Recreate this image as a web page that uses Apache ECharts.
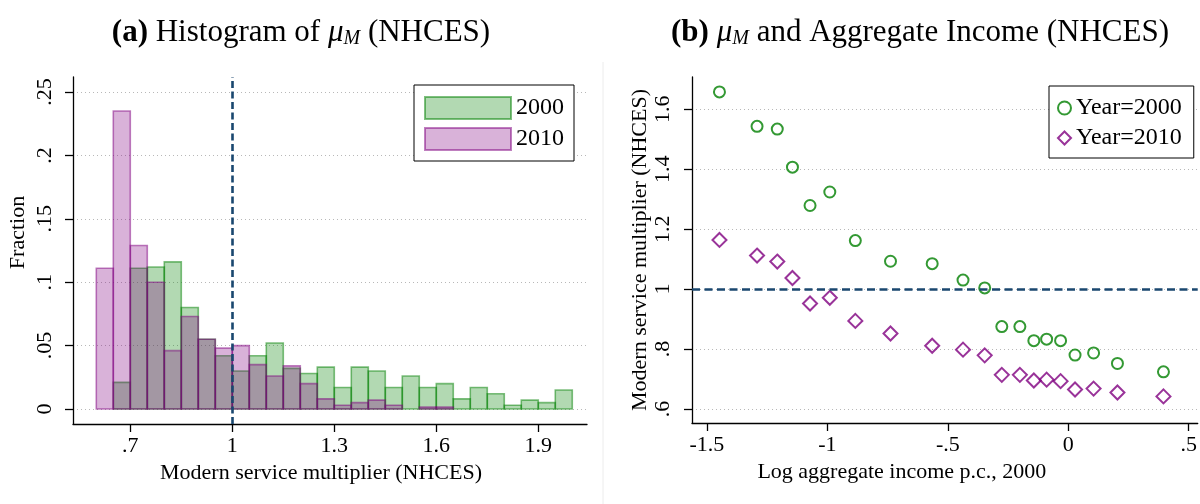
<!DOCTYPE html>
<html><head><meta charset="utf-8">
<script src="https://cdn.jsdelivr.net/npm/echarts@6/dist/echarts.min.js"></script>
<style>html,body{margin:0;padding:0;background:#fff}#c{width:1200px;height:504px}</style>
</head><body><div id="c"></div>
<script>
// ---------- Panel (a): histogram data ----------
const binStart = [0.60,0.65,0.70,0.75,0.80,0.85,0.90,0.95,1.00,1.05,1.10,1.15,1.20,1.25,1.30,1.35,1.40,1.45,1.50,1.55,1.60,1.65,1.70,1.75,1.80,1.85,1.90,1.95];
const binEnd   = [0.65,0.70,0.75,0.80,0.85,0.90,0.95,1.00,1.05,1.10,1.15,1.20,1.25,1.30,1.35,1.40,1.45,1.50,1.55,1.60,1.65,1.70,1.75,1.80,1.85,1.90,1.95,2.00];
const frac2000 = [0,0.021,0.111,0.112,0.116,0.080,0.055,0.042,0.030,0.042,0.052,0.032,0.028,0.033,0.017,0.033,0.030,0.017,0.026,0.017,0.020,0.008,0.017,0.012,0.003,0.007,0.005,0.015];
const frac2010 = [0.111,0.235,0.129,0.100,0.046,0.073,0.055,0.048,0.050,0.035,0.026,0.034,0.020,0.008,0.003,0.005,0.007,0.003,0,0.0015,0.0015,0,0,0,0,0,0,0];
const histXTicks = [0.7,1.0,1.3,1.6,1.9];
const histXLabels = ['.7','1','1.3','1.6','1.9'];
const histYTicks = [0,0.05,0.1,0.15,0.2,0.25];
const histYLabels = ['0','.05','.1','.15','.2','.25'];

// ---------- Panel (b): scatter data ----------
const incomeX = [-1.448,-1.292,-1.208,-1.145,-1.072,-0.990,-0.884,-0.738,-0.565,-0.437,-0.347,-0.276,-0.201,-0.143,-0.090,-0.032,0.028,0.105,0.204,0.395];
const mu2000 = [1.658,1.543,1.534,1.407,1.279,1.324,1.162,1.093,1.085,1.030,1.004,0.875,0.875,0.828,0.833,0.828,0.780,0.787,0.752,0.724];
const mu2010 = [1.164,1.112,1.092,1.037,0.952,0.971,0.894,0.852,0.811,0.798,0.779,0.714,0.714,0.695,0.698,0.693,0.665,0.668,0.655,0.642];
const scatXTicks = [-1.5,-1,-0.5,0,0.5];
const scatXLabels = ['-1.5','-1','-.5','0','.5'];
const scatYTicks = [0.6,0.8,1,1.2,1.4,1.6];
const scatYLabels = ['.6','.8','1','1.2','1.4','1.6'];

const FONT = 'Liberation Serif';
function labeler(ticks, labels) {
  return function (v) {
    const i = ticks.findIndex(t => Math.abs(t - v) < 1e-9);
    return i >= 0 ? labels[i] : '';
  };
}
function histItem(params, api) {
  const v = api.value(2);
  if (!(v > 0)) return null;
  const p0 = api.coord([api.value(0), v]);
  const p1 = api.coord([api.value(1), 0]);
  return {
    type: 'rect',
    shape: { x: p0[0], y: p0[1], width: p1[0] - p0[0], height: p1[1] - p0[1] },
    style: api.style()
  };
}
const axisCommon = {
  axisLine: { show: true, onZero: false, lineStyle: { color: '#000', width: 1.3 } },
  axisTick: { show: true, length: 8, lineStyle: { color: '#000', width: 1.3 } },
  nameTextStyle: { fontFamily: FONT, fontSize: 22, color: '#000' }
};
const gridLine = { show: true, lineStyle: { color: '#b8b8b8', width: 1, type: [1, 3] } };
const labelStyle = { fontFamily: FONT, fontSize: 22, color: '#000' };
const TS = 31;
const titleRich = {
  b: { fontFamily: FONT, fontSize: TS, fontWeight: 'bold', color: '#000' },
  m: { fontFamily: FONT, fontSize: TS, fontStyle: 'italic', color: '#000' },
  s: { fontFamily: FONT, fontSize: 20, fontStyle: 'italic', color: '#000', padding: [13, 0, 0, 0] }
};

const chart = echarts.init(document.getElementById('c'), null, { renderer: 'canvas' });
const option = {
  backgroundColor: '#fff',
  animation: false,
  title: [
    { text: '{b|(a)} Histogram of {m|μ}{s|M} (NHCES)', left: 296, top: 11, textAlign: 'center',
      textStyle: { fontFamily: FONT, fontSize: TS, fontWeight: 'normal', color: '#000', rich: titleRich } },
    { text: '{b|(b)} {m|μ}{s|M} and Aggregate Income (NHCES)', left: 915, top: 11, textAlign: 'center',
      textStyle: { fontFamily: FONT, fontSize: TS, fontWeight: 'normal', color: '#000', rich: titleRich } }
  ],
  legend: [
    { data: ['2000', '2010'], orient: 'vertical', left: 414, top: 85,
      icon: 'rect', itemWidth: 86, itemHeight: 22, itemGap: 7, padding: [11, 10, 10, 10],
      borderColor: '#000', borderWidth: 1, backgroundColor: '#fff',
      textStyle: { fontFamily: FONT, fontSize: 24, color: '#000', lineHeight: 22 } },
    { data: ['Year=2000', 'Year=2010'], orient: 'vertical', left: 1049, top: 86,
      itemWidth: 13, itemHeight: 13, itemGap: 6, padding: [10, 12, 8, 8],
      borderColor: '#000', borderWidth: 1, backgroundColor: '#fff',
      textStyle: { fontFamily: FONT, fontSize: 24, color: '#000', lineHeight: 24 } }
  ],
  graphic: [
    { type: 'line', shape: { x1: 603, y1: 62, x2: 603, y2: 504 }, style: { stroke: '#ececec', lineWidth: 1 }, silent: true }
  ],
  grid: [
    { left: 73, top: 77, width: 514, height: 347 },
    { left: 692, top: 77, width: 508, height: 346 }
  ],
  xAxis: [
    Object.assign({}, axisCommon, {
      gridIndex: 0, type: 'value', min: 0.5315, max: 2.0433,
      name: 'Modern service multiplier (NHCES)', nameLocation: 'middle', nameGap: 36,
      nameTextStyle: Object.assign({}, axisCommon.nameTextStyle, { padding: [0, 18, 0, 0] }),
      axisTick: Object.assign({}, axisCommon.axisTick, { customValues: histXTicks }),
      axisLabel: Object.assign({}, labelStyle, { customValues: histXTicks, margin: 11, formatter: labeler(histXTicks, histXLabels) }),
      splitLine: { show: false }
    }),
    Object.assign({}, axisCommon, {
      gridIndex: 1, type: 'value', min: -1.5620, max: 0.5372,
      name: 'Log aggregate income p.c., 2000', nameLocation: 'middle', nameGap: 36,
      nameTextStyle: Object.assign({}, axisCommon.nameTextStyle, { padding: [0, 86, 0, 0] }),
      axisTick: Object.assign({}, axisCommon.axisTick, { customValues: scatXTicks }),
      axisLabel: Object.assign({}, labelStyle, { customValues: scatXTicks, margin: 11, formatter: labeler(scatXTicks, scatXLabels) }),
      splitLine: { show: false }
    })
  ],
  yAxis: [
    Object.assign({}, axisCommon, {
      gridIndex: 0, type: 'value', min: -0.01183, max: 0.26183,
      name: 'Fraction', nameLocation: 'middle', nameGap: 44, nameRotate: 90,
      nameTextStyle: Object.assign({}, axisCommon.nameTextStyle, { padding: [0, 0, 0, 36] }),
      axisTick: Object.assign({}, axisCommon.axisTick, { customValues: histYTicks }),
      axisLabel: Object.assign({}, labelStyle, { customValues: histYTicks, rotate: 90, margin: 17, formatter: labeler(histYTicks, histYLabels) }),
      splitLine: Object.assign({}, gridLine, { customValues: histYTicks })
    }),
    Object.assign({}, axisCommon, {
      gridIndex: 1, type: 'value', min: 0.5533, max: 1.7077,
      name: 'Modern service multiplier (NHCES)', nameLocation: 'middle', nameGap: 40, nameRotate: 90,
      axisTick: Object.assign({}, axisCommon.axisTick, { customValues: scatYTicks }),
      axisLabel: Object.assign({}, labelStyle, { customValues: scatYTicks, rotate: 90, margin: 18, formatter: labeler(scatYTicks, scatYLabels) }),
      splitLine: Object.assign({}, gridLine, { customValues: scatYTicks })
    })
  ],
  series: [
    { name: '2000', type: 'custom', xAxisIndex: 0, yAxisIndex: 0, renderItem: histItem,
      encode: { x: [0, 1], y: 2 },
      itemStyle: { color: 'rgba(0,128,0,0.3)', borderColor: 'rgba(0,128,0,0.5)', borderWidth: 1.6 },
      data: binStart.map((s, i) => [s, binEnd[i], frac2000[i]]), z: 2 },
    { name: '2010', type: 'custom', xAxisIndex: 0, yAxisIndex: 0, renderItem: histItem,
      encode: { x: [0, 1], y: 2 },
      itemStyle: { color: 'rgba(128,0,128,0.3)', borderColor: 'rgba(128,0,128,0.5)', borderWidth: 1.6 },
      data: binStart.map((s, i) => [s, binEnd[i], frac2010[i]]), z: 3 },
    { name: 'ref1', type: 'line', xAxisIndex: 0, yAxisIndex: 0, data: [], z: 5,
      markLine: { silent: true, symbol: 'none', label: { show: false }, animation: false,
        lineStyle: { color: '#1a476f', width: 2.6, type: [7, 3.5] }, data: [{ xAxis: 1 }] } },
    { name: 'Year=2000', type: 'scatter', xAxisIndex: 1, yAxisIndex: 1, symbol: 'circle', symbolSize: 11,
      itemStyle: { color: 'rgba(255,255,255,0)', borderColor: '#008000', borderWidth: 2 },
      data: incomeX.map((x, i) => [x, mu2000[i]]), z: 4 },
    { name: 'Year=2010', type: 'scatter', xAxisIndex: 1, yAxisIndex: 1, symbol: 'diamond', symbolSize: 14,
      itemStyle: { color: 'rgba(255,255,255,0)', borderColor: '#800080', borderWidth: 2 },
      data: incomeX.map((x, i) => [x, mu2010[i]]), z: 4 },
    { name: 'ref2', type: 'line', xAxisIndex: 1, yAxisIndex: 1, data: [], z: 3,
      markLine: { silent: true, symbol: 'none', label: { show: false }, animation: false,
        lineStyle: { color: '#1a476f', width: 2.6, type: [8, 4.5] }, data: [{ yAxis: 1 }] } }
  ]
};
chart.setOption(option);
</script>
</body></html>
